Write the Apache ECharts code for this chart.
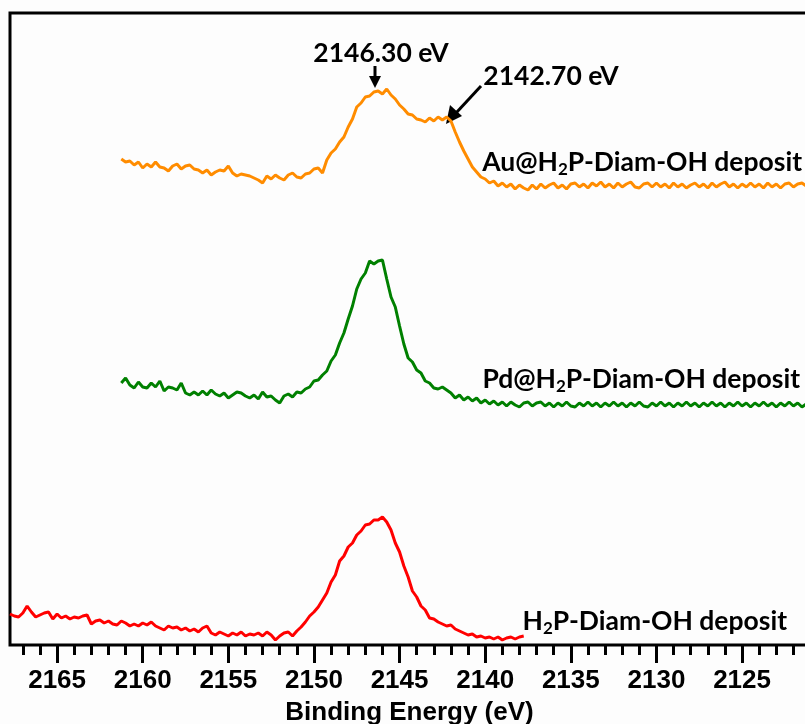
<!DOCTYPE html>
<html>
<head>
<meta charset="utf-8">
<script src="https://cdn.jsdelivr.net/npm/echarts@6/dist/echarts.min.js"></script>
<style>
  html, body { margin: 0; padding: 0; background: #fdfdfd; }
  #chart { width: 805px; height: 724px; }
</style>
</head>
<body>
<div id="chart"></div>
<script>
// energy grid of the spectra (eV), uniform step
const energyStep = 0.25
const auStart = 2161.25
const pdStart = 2161.25
const bareStart = 2167.75

// intensities (a.u., offset per trace as in the figure)
const auValues = [
  486, 483, 484, 480, 483, 477, 481, 478, 483, 478,
  477, 474, 479, 481, 476, 479, 480, 476, 475, 472,
  475, 470, 473, 475, 474, 479, 472, 469, 471, 470,
  469, 467, 465, 462, 469, 466, 470, 467, 465, 470,
  472, 468, 467, 471, 472, 476, 477, 472, 485, 492,
  496, 503, 508, 518, 526, 538, 542, 548, 549, 553,
  554, 551, 556, 550, 546, 540, 536, 531, 530, 526,
  525, 523, 527, 524, 528, 525, 528, 524, 513, 503,
  494, 486, 478, 473, 468, 466, 462, 464, 459, 462,
  458, 461, 456, 460, 457, 455, 460, 456, 461, 457,
  460, 462, 457, 460, 456, 461, 462, 458, 461, 457,
  462, 459, 463, 458, 461, 457, 462, 458, 461, 463,
  458, 457, 461, 462, 458, 462, 458, 461, 457, 462,
  458, 461, 457, 460, 462, 458, 461, 457, 462, 458,
  461, 463, 458, 461, 457, 461, 458, 462, 458, 461,
  457, 462, 458, 461, 457, 461, 462, 458, 461, 462, 459
]
const pdValues = [
  262, 267, 260, 257, 263, 258, 257, 262, 258, 264,
  254, 258, 257, 255, 262, 252, 250, 253, 250, 254,
  250, 255, 251, 249, 252, 247, 250, 253, 252, 249,
  247, 250, 246, 253, 248, 249, 245, 242, 249, 251,
  248, 253, 252, 256, 258, 264, 265, 270, 274, 284,
  290, 302, 312, 326, 339, 356, 366, 372, 384, 381,
  384, 385, 366, 348, 338, 319, 301, 287, 283, 275,
  272, 264, 262, 257, 256, 258, 255, 252, 247, 250,
  245, 248, 244, 247, 242, 245, 241, 244, 240, 243,
  239, 243, 240, 238, 242, 243, 239, 242, 243, 239,
  242, 238, 242, 239, 243, 239, 238, 242, 239, 243,
  239, 242, 238, 242, 239, 243, 239, 242, 238, 242,
  239, 243, 239, 238, 242, 239, 243, 239, 242, 238,
  242, 239, 243, 239, 242, 238, 242, 239, 243, 239,
  242, 238, 242, 239, 243, 239, 242, 238, 242, 239,
  243, 239, 242, 238, 242, 239, 243, 239, 242, 238, 241
]
const bareValues = [
  31, 29, 28, 32, 39, 33, 28, 30, 32, 33,
  26, 31, 27, 29, 26, 28, 27, 29, 30, 21,
  24, 25, 22, 24, 21, 20, 24, 22, 19, 21,
  19, 22, 20, 23, 19, 17, 15, 19, 17, 18,
  15, 17, 14, 16, 13, 17, 19, 12, 10, 13,
  11, 9, 12, 10, 13, 9, 11, 10, 12, 9,
  13, 10, 5, 9, 12, 13, 9, 14, 18, 23,
  29, 33, 38, 45, 52, 63, 70, 84, 89, 98,
  102, 110, 114, 120, 121, 125, 125, 128, 123, 115,
  102, 93, 79, 68, 54, 48, 39, 35, 27, 26,
  23, 21, 19, 20, 16, 14, 12, 10, 11, 8,
  9, 7, 8, 6, 8, 5, 7, 8, 6, 8, 9
]

// axis
const majorTicks = [2165, 2160, 2155, 2150, 2145, 2140, 2135, 2130, 2125]
const minorTicks = []
for (let e = 2167; e >= 2122; e--) minorTicks.push(e)
const xMin = 2121.09
const xMax = 2167.75

function toPairs (start, values) {
  return values.map((v, i) => [start - i * energyStep, v])
}

const chart = echarts.init(document.getElementById('chart'), null, { renderer: 'canvas' })

const labelFont = 'Lato, "Open Sans", sans-serif'
const axisFont = '"Liberation Sans", Arial, sans-serif'
const richSub = {
  b: { fontFamily: labelFont, fontWeight: 'bold', fontSize: 26.5, color: '#000' },
  s: { fontFamily: labelFont, fontWeight: 'bold', fontSize: 17, color: '#000', padding: [15, 0, 0, 0] }
}

const option = {
  backgroundColor: '#fdfdfd',
  animation: false,
  // grid border gives the left, top and bottom frame; right side falls off-canvas
  grid: {
    left: 10, right: -4, top: 13, bottom: 79, outerBoundsMode: 'none', containLabel: false,
    show: true, borderColor: '#000', borderWidth: 3, backgroundColor: 'transparent'
  },
  xAxis: [
    {
      type: 'value', min: xMin, max: xMax, inverse: true, position: 'bottom',
      axisLine: { show: false },
      axisTick: { show: true, customValues: majorTicks, length: 18, lineStyle: { color: '#000', width: 3 } },
      axisLabel: {
        customValues: majorTicks, margin: 23, color: '#000',
        fontFamily: axisFont, fontWeight: 'bold', fontSize: 26,
        formatter: v => String(v)
      },
      splitLine: { show: false },
      name: 'Binding Energy (eV)', nameLocation: 'middle', nameGap: 55,
      nameTextStyle: { color: '#000', fontFamily: axisFont, fontWeight: 'bold', fontSize: 26 }
    },
    {
      // minor ticks: a top axis moved down onto the bottom frame, ticks pointing down
      type: 'value', min: xMin, max: xMax, inverse: true, position: 'top', offset: -632,
      axisLine: { show: false },
      axisTick: { show: true, inside: true, customValues: minorTicks, length: 10, lineStyle: { color: '#000', width: 3 } },
      axisLabel: { show: false },
      splitLine: { show: false }
    }
  ],
  yAxis: {
    type: 'value', min: 0, max: 632,
    axisLine: { show: false },
    axisTick: { show: false },
    axisLabel: { show: false },
    splitLine: { show: false }
  },
  series: [
    {
      name: 'Au@H2P-Diam-OH deposit', type: 'line', showSymbol: false,
      data: toPairs(auStart, auValues),
      lineStyle: { color: '#ff8c00', width: 3 }
    },
    {
      name: 'Pd@H2P-Diam-OH deposit', type: 'line', showSymbol: false,
      data: toPairs(pdStart, pdValues),
      lineStyle: { color: '#008000', width: 3 }
    },
    {
      name: 'H2P-Diam-OH deposit', type: 'line', showSymbol: false,
      data: toPairs(bareStart, bareValues),
      lineStyle: { color: '#ff0000', width: 3 }
    }
  ],
  graphic: [
    // trace labels
    { type: 'text', right: 3, top: 149, style: { text: '{b|Au@H}{s|2}{b|P-Diam-OH deposit}', rich: richSub } },
    { type: 'text', right: 5, top: 366, style: { text: '{b|Pd@H}{s|2}{b|P-Diam-OH deposit}', rich: richSub } },
    { type: 'text', right: 18, top: 608, style: { text: '{b|H}{s|2}{b|P-Diam-OH deposit}', rich: richSub } },
    // peak annotations
    { type: 'text', x: 381, y: 53, style: { text: '2146.30 eV', align: 'center', verticalAlign: 'middle', fill: '#000', font: 'bold 26.5px ' + labelFont } },
    { type: 'text', x: 551, y: 76, style: { text: '2142.70 eV', align: 'center', verticalAlign: 'middle', fill: '#000', font: 'bold 26.5px ' + labelFont } },
    { type: 'line', shape: { x1: 375, y1: 66, x2: 375, y2: 78 }, style: { stroke: '#000', lineWidth: 3 } },
    { type: 'polygon', shape: { points: [[369, 76], [381, 76], [375, 88]] }, style: { fill: '#000' } },
    { type: 'line', shape: { x1: 481, y1: 86, x2: 456, y2: 113 }, style: { stroke: '#000', lineWidth: 3 } },
    { type: 'polygon', shape: { points: [[450, 105], [462, 116], [446, 124]] }, style: { fill: '#000' } }
  ]
}

chart.setOption(option)
</script>
</body>
</html>
